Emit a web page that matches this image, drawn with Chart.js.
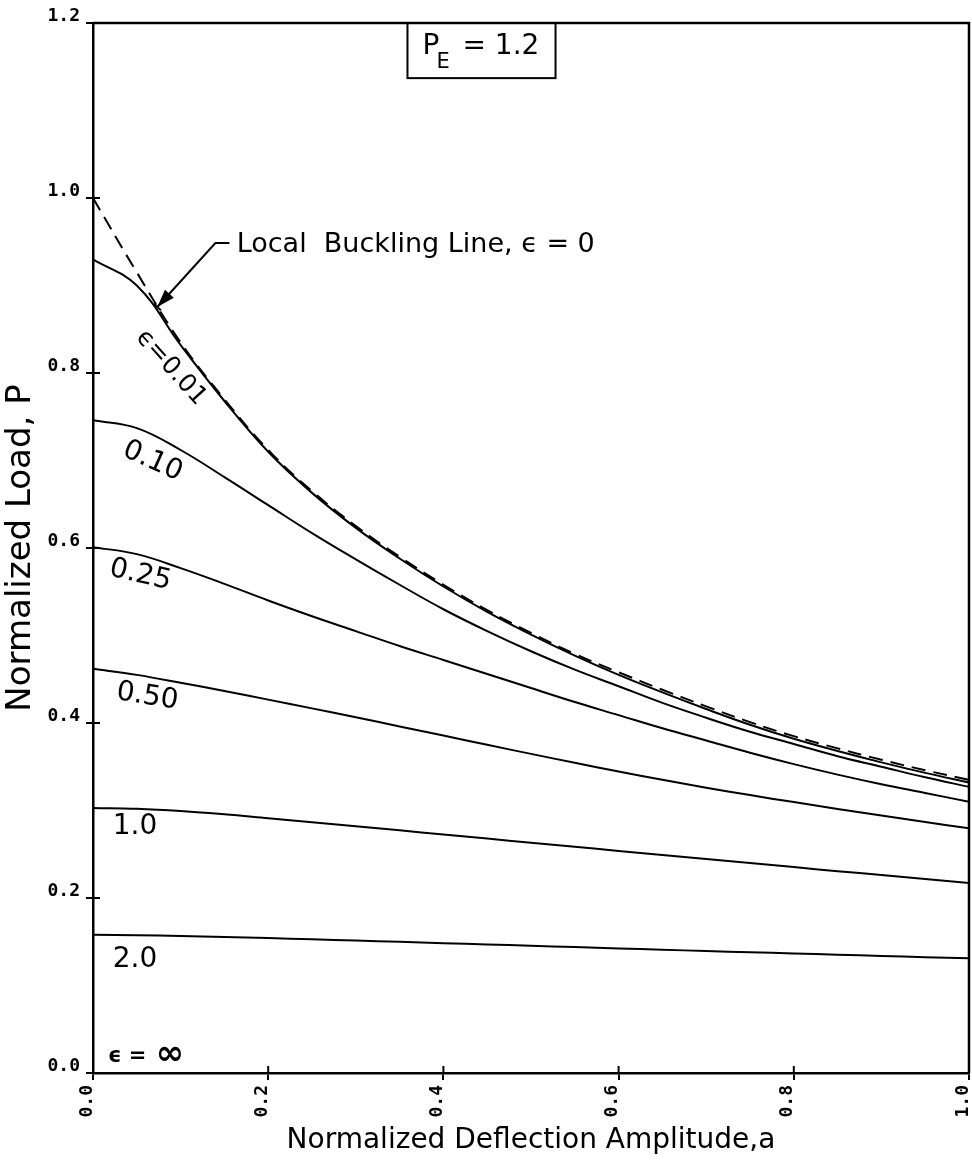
<!DOCTYPE html>
<html>
<head>
<meta charset="utf-8">
<script src="https://cdn.jsdelivr.net/npm/chart.js@4.4.1/dist/chart.umd.min.js"></script>
<style>
  html, body { margin: 0; padding: 0; background: #fff; }
  #wrap { width: 972px; height: 1164px; }
</style>
</head>
<body>
<div id="wrap"><canvas id="chart" width="972" height="1164"></canvas></div>
<script>
// Normalized deflection amplitude a, shared by every curve
const deflection = [0, 0.05, 0.1, 0.15, 0.2, 0.25, 0.3, 0.35, 0.4, 0.45, 0.5,
                    0.55, 0.6, 0.65, 0.7, 0.75, 0.8, 0.85, 0.9, 0.95, 1.0];

// Normalized load P (PE = 1.2)
const localBuckling = [1.000, 0.915, 0.835, 0.770, 0.712, 0.665, 0.625, 0.590, 0.558, 0.529, 0.503,
                       0.479, 0.458, 0.438, 0.419, 0.401, 0.385, 0.371, 0.358, 0.346, 0.335];
const eps001 = [0.930, 0.900, 0.832, 0.768, 0.710, 0.663, 0.623, 0.588, 0.556, 0.527, 0.501,
                0.477, 0.455, 0.435, 0.416, 0.398, 0.382, 0.368, 0.355, 0.343, 0.332];
const eps010 = [0.746, 0.737, 0.712, 0.681, 0.649, 0.617, 0.587, 0.558, 0.530, 0.505, 0.482,
                0.461, 0.442, 0.423, 0.406, 0.390, 0.376, 0.362, 0.350, 0.338, 0.327];
const eps025 = [0.601, 0.593, 0.577, 0.559, 0.540, 0.522, 0.505, 0.488, 0.472, 0.456, 0.440,
                0.424, 0.409, 0.394, 0.380, 0.366, 0.353, 0.341, 0.330, 0.320, 0.310];
const eps050 = [0.462, 0.455, 0.446, 0.4365, 0.4267, 0.4167, 0.4065, 0.3961, 0.3856, 0.3751, 0.3647,
                0.3545, 0.3446, 0.3351, 0.3261, 0.3176, 0.3096, 0.3018, 0.2942, 0.2868, 0.2796];
const eps100 = [0.303, 0.302, 0.2995, 0.2958, 0.2912, 0.2866, 0.2820, 0.2773, 0.2726, 0.2679, 0.2632,
                0.2585, 0.2538, 0.2491, 0.2445, 0.2399, 0.2353, 0.2307, 0.2262, 0.2217, 0.2172];
const eps200 = [0.158, 0.1575, 0.1566, 0.1555, 0.1542, 0.1528, 0.1514, 0.1499, 0.1484, 0.1469, 0.1454,
                0.1439, 0.1424, 0.1409, 0.1394, 0.1380, 0.1366, 0.1352, 0.1338, 0.1324, 0.1310];

// Axis ticks
const xTicks = [0, 0.2, 0.4, 0.6, 0.8, 1.0];
const yTicks = [0, 0.2, 0.4, 0.6, 0.8, 1.0, 1.2];

const toPoints = (vals) => vals.map((p, i) => ({ x: deflection[i], y: p }));

const curve = (label, vals, dashed) => ({
    label: label,
    data: toPoints(vals),
    borderColor: '#000',
    borderWidth: 2,
    borderDash: dashed ? [14, 8] : [],
    pointRadius: 0,
    fill: false,
    tension: 0.4
});

// Text placed on the plot, positions in data units (a, P)
const curveLabels = [
    { text: 'ϵ=0.01', a: 0.089, p: 0.806, rot: 48, size: 25 },
    { text: '0.10', a: 0.068, p: 0.699, rot: 24, size: 28 },
    { text: '0.25', a: 0.054, p: 0.569, rot: 13, size: 28 },
    { text: '0.50', a: 0.062, p: 0.430, rot: 9, size: 28 },
    { text: '1.0', a: 0.048, p: 0.281, rot: 0, size: 28 },
    { text: '2.0', a: 0.048, p: 0.130, rot: 0, size: 28 }
];

const annotate = {
    id: 'annotate',
    afterDatasetsDraw(chart) {
        const { ctx, chartArea: area, scales: { x, y } } = chart;
        const px = v => x.getPixelForValue(v);
        const py = v => y.getPixelForValue(v);
        const seg = (x1, y1, x2, y2) => { ctx.beginPath(); ctx.moveTo(x1, y1); ctx.lineTo(x2, y2); ctx.stroke(); };

        ctx.save();
        ctx.strokeStyle = '#000';
        ctx.fillStyle = '#000';

        // top and right frame
        ctx.lineWidth = 2.5;
        ctx.beginPath();
        ctx.moveTo(area.left, area.top);
        ctx.lineTo(area.right, area.top);
        ctx.lineTo(area.right, area.bottom);
        ctx.stroke();

        // inner half of the cross ticks
        ctx.lineWidth = 2;
        xTicks.forEach(v => seg(px(v), area.bottom, px(v), area.bottom - 7));
        yTicks.forEach(v => seg(area.left, py(v), area.left + 7, py(v)));

        // curve labels
        ctx.textAlign = 'center';
        ctx.textBaseline = 'middle';
        curveLabels.forEach(l => {
            ctx.save();
            ctx.translate(px(l.a), py(l.p));
            ctx.rotate(l.rot * Math.PI / 180);
            ctx.font = `${l.size}px "DejaVu Sans"`;
            ctx.fillText(l.text, 0, 0);
            ctx.restore();
        });

        // epsilon = infinity
        ctx.textAlign = 'left';
        const infX = px(0.017), infY = py(0.019);
        ctx.font = 'bold 21px "DejaVu Sans"';
        ctx.fillText('ϵ =', infX, infY);
        const gap = ctx.measureText('ϵ = ').width;
        ctx.font = 'bold 34px "DejaVu Sans"';
        ctx.fillText('∞', infX + gap + 2, infY - 1);

        // Local buckling line callout
        ctx.font = '27px "DejaVu Sans"';
        ctx.fillText('Local  Buckling Line, ϵ = 0', px(0.164), py(0.946));
        const tipX = px(0.0734), tipY = py(0.8754);
        const bendX = px(0.1397), bendY = py(0.9486);
        ctx.lineWidth = 2;
        ctx.beginPath();
        ctx.moveTo(px(0.1557), bendY);
        ctx.lineTo(bendX, bendY);
        ctx.lineTo(tipX, tipY);
        ctx.stroke();
        const ang = Math.atan2(tipY - bendY, tipX - bendX);
        const hl = 18, hw = 6;
        ctx.beginPath();
        ctx.moveTo(tipX, tipY);
        ctx.lineTo(tipX - hl * Math.cos(ang) + hw * Math.sin(ang), tipY - hl * Math.sin(ang) - hw * Math.cos(ang));
        ctx.lineTo(tipX - hl * Math.cos(ang) - hw * Math.sin(ang), tipY - hl * Math.sin(ang) + hw * Math.cos(ang));
        ctx.closePath();
        ctx.fill();
        seg(tipX - 5 * Math.sin(ang), tipY + 5 * Math.cos(ang), tipX + 5 * Math.sin(ang), tipY - 5 * Math.cos(ang));

        // PE box
        const bx1 = px(0.359), bx2 = px(0.528), by1 = py(1.2), by2 = py(1.137);
        ctx.lineWidth = 2;
        ctx.strokeRect(bx1, by1, bx2 - bx1, by2 - by1);
        ctx.textBaseline = 'alphabetic';
        ctx.font = '28px "DejaVu Sans"';
        ctx.fillText('P', bx1 + 15, by1 + 31);
        ctx.font = '21px "DejaVu Sans"';
        ctx.fillText('E', bx1 + 29, by1 + 45);
        ctx.font = '28px "DejaVu Sans"';
        ctx.fillText('= 1.2', bx1 + 55, by1 + 31);

        ctx.restore();
    }
};

const tickFont = { family: '"DejaVu Sans Mono"', weight: 'bold', size: 18 };

new Chart(document.getElementById('chart'), {
    type: 'line',
    data: {
        datasets: [
            curve('Local Buckling Line', localBuckling, true),
            curve('ε = 0.01', eps001),
            curve('ε = 0.10', eps010),
            curve('ε = 0.25', eps025),
            curve('ε = 0.50', eps050),
            curve('ε = 1.0', eps100),
            curve('ε = 2.0', eps200)
        ]
    },
    options: {
        responsive: false,
        animation: false,
        layout: { padding: { top: 23, right: 3, left: 0, bottom: 0 } },
        plugins: {
            legend: { display: false },
            tooltip: { enabled: false }
        },
        scales: {
            x: {
                type: 'linear',
                min: 0,
                max: 1,
                afterFit: s => { s.height = 91; s.paddingLeft = 0; s.paddingRight = 0; },
                afterBuildTicks: s => { s.ticks = xTicks.map(v => ({ value: v })); },
                ticks: {
                    color: '#000',
                    font: tickFont,
                    minRotation: 90,
                    maxRotation: 90,
                    padding: 5,
                    labelOffset: -6,
                    callback: v => v.toFixed(1)
                },
                grid: { drawOnChartArea: false, color: '#000', lineWidth: 2, tickLength: 7 },
                border: { color: '#000', width: 2.5 },
                title: {
                    display: true,
                    text: 'Normalized Deflection Amplitude,a',
                    color: '#000',
                    font: { family: '"DejaVu Sans"', size: 28 },
                    padding: { top: 0, bottom: 6 }
                }
            },
            y: {
                min: 0,
                max: 1.2,
                afterFit: s => { s.width = 93; s.paddingTop = 0; s.paddingBottom = 0; },
                afterBuildTicks: s => { s.ticks = yTicks.map(v => ({ value: v })); },
                ticks: {
                    color: '#000',
                    font: tickFont,
                    padding: 6,
                    labelOffset: -7,
                    callback: v => v.toFixed(1)
                },
                grid: { drawOnChartArea: false, color: '#000', lineWidth: 2, tickLength: 7 },
                border: { color: '#000', width: 2.5 },
                title: {
                    display: true,
                    text: 'Normalized Load, P',
                    color: '#000',
                    font: { family: '"DejaVu Sans"', size: 34 },
                    padding: { top: 1, bottom: 0 }
                }
            }
        }
    },
    plugins: [annotate]
});
</script>
</body>
</html>
